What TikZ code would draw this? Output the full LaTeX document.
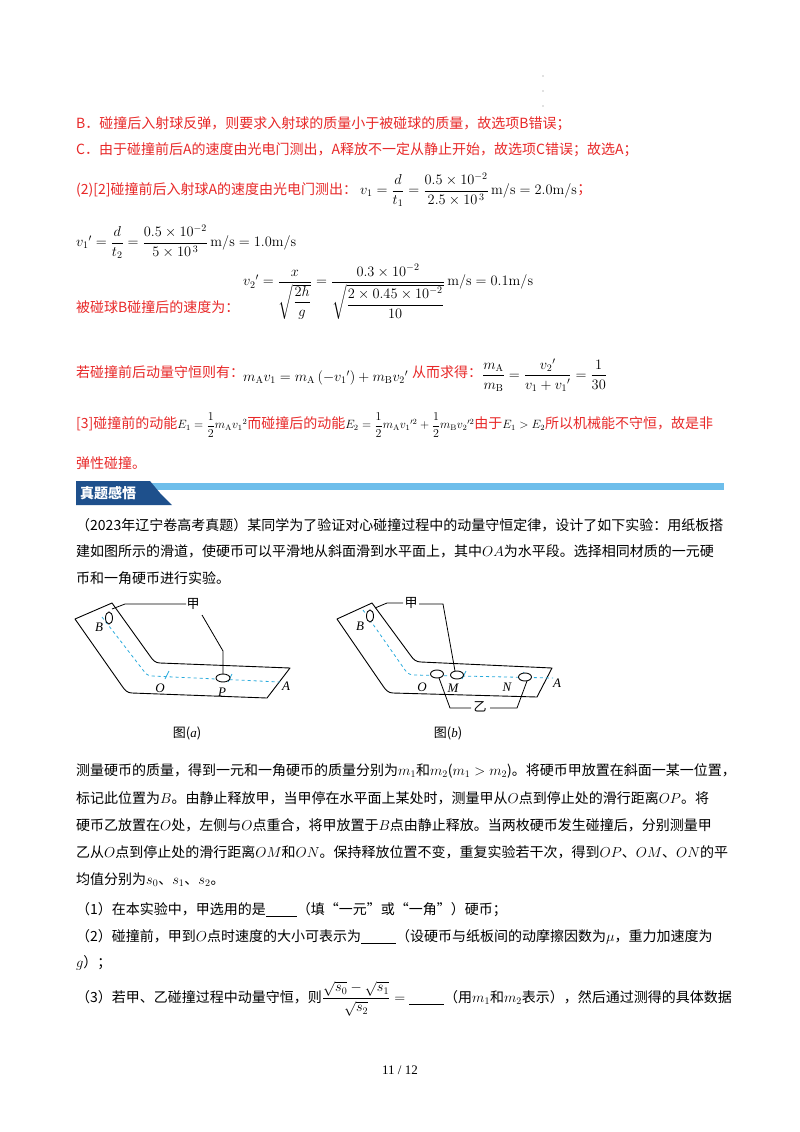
\documentclass[tikz,border=0pt]{standalone}
\usepackage{amsmath}
\usepackage[no-math]{fontspec}
\setmainfont{Noto Sans CJK SC}
\newfontfamily\serifl{Liberation Serif}
\definecolor{rd}{RGB}{232,40,40}
\definecolor{cy}{RGB}{40,170,220}
\definecolor{dblue}{RGB}{30,80,140}
\definecolor{lblue}{RGB}{110,190,235}
\begin{document}
\begin{tikzpicture}[x=1pt,y=-1pt,
  tx/.style={anchor=west,inner sep=0,font=\fontsize{14}{16}\selectfont},
  rt/.style={tx,text=rd},
  eq/.style={anchor=west,inner sep=0,font=\fontsize{14.5}{17}\selectfont},
  lab/.style={inner sep=0,font=\fontsize{13}{15}\selectfont\serifl\itshape},
  coin/.style={draw,line width=0.9pt},
  trk/.style={line width=0.9pt,line join=round},
  dsh/.style={cy,dashed,line width=0.8pt},
  lead/.style={line width=0.8pt}]
\useasboundingbox (0,0) rectangle (800,1132);
\fill[white] (0,0) rectangle (800,1132);
% tiny dots
\foreach \yy in {76,91,106} \fill[gray] (543,\yy) circle (0.6);
% red solution text
\node[rt] (l1) at (76,124) {B．碰撞后入射球反弹，则要求入射球的质量小于被碰球的质量，故选项B错误；};
\node[rt] (l2) at (76,150) {C．由于碰撞前后A的速度由光电门测出，A释放不一定从静止开始，故选项C错误；故选A；};
\node[rt] (l3) at (76,190) {(2)[2]碰撞前后入射球A的速度由光电门测出：};
\node[eq] (e1) at (360,190) {$v_1=\dfrac{d}{t_1}=\dfrac{0.5\times10^{-2}}{2.5\times10^{\,3}}\,\mathrm{m/s}=2.0\mathrm{m/s}$};
\node[rt,anchor=west] at (e1.east) {；};
\node[eq] (e2) at (76,242) {$v_1{}'=\dfrac{d}{t_2}=\dfrac{0.5\times10^{-2}}{5\times10^{\,3}}\,\mathrm{m/s}=1.0\mathrm{m/s}$};
\node[rt] (l4) at (76,307) {被碰球B碰撞后的速度为：};
\node[eq] (e3) at (243,292) {$v_2{}'=\dfrac{x}{\sqrt{\dfrac{2h}{g}}}=\dfrac{0.3\times10^{-2}}{\sqrt{\dfrac{2\times0.45\times10^{-2}}{10}}}\,\mathrm{m/s}=0.1\mathrm{m/s}$};
\node[rt] (l5) at (76,372) {若碰撞前后动量守恒则有：};
\node[eq] (e4) at (243,378) {$m_{\mathrm A}v_1=m_{\mathrm A}\left(-v_1{}'\right)+m_{\mathrm B}v_2{}'$};
\node[rt] (l6) at (412,372) {从而求得：};
\node[eq] (e5) at (482,375) {$\dfrac{m_{\mathrm A}}{m_{\mathrm B}}=\dfrac{v_2{}'}{v_1+v_1{}'}=\dfrac{1}{30}$};
\node[anchor=west,inner sep=0,font=\fontsize{14}{16}\selectfont,text=rd] (l7) at (76,425) {[3]碰撞前的动能\textcolor{black}{\fontsize{12}{14}\selectfont$E_1=\dfrac12m_{\mathrm A}v_1{}^2$}而碰撞后的动能\textcolor{black}{\fontsize{12}{14}\selectfont$E_2=\dfrac12m_{\mathrm A}v_1{}'^2+\dfrac12m_{\mathrm B}v_2{}'^2$}由于\textcolor{black}{\fontsize{12}{14}\selectfont$E_1>E_2$}所以机械能不守恒，故是非};
\node[rt] (l8) at (76,463) {弹性碰撞。};
% banner
\fill[lblue] (150,483) rectangle (724,490);
\fill[dblue] (76,481) -- (150,481) -- (160,493) -- (172,505) -- (76,505) -- cycle;
\node[anchor=west,inner sep=0,text=white,font=\fontsize{14}{16}\selectfont\bfseries] (ban) at (80,493) {真题感悟};
% problem text
\node[tx] (p1) at (76,525) {（2023年辽宁卷高考真题）某同学为了验证对心碰撞过程中的动量守恒定律，设计了如下实验：用纸板搭};
\node[tx] (p2) at (76,551) {建如图所示的滑道，使硬币可以平滑地从斜面滑到水平面上，其中$OA$为水平段。选择相同材质的一元硬};
\node[tx] (p3) at (76,578) {币和一角硬币进行实验。};
% figure a
\draw[trk] (75,619) -- (112,603) -- (150,656) to[out=-55,in=180] (160,663) -- (290,668) -- (267,698) -- (132,693) to[out=180,in=-55] (122,686) -- cycle;
\draw[dsh] (102,617) -- (143,670) to[out=-55,in=180] (152,676) -- (280,682);
\draw[cy,line width=0.8pt] (165,679) -- (169,671) (228,682) -- (232,674);
\draw[coin,fill=white] (109,618) ellipse [x radius=3.5,y radius=6];
\draw[coin,fill=white] (223,678) ellipse [x radius=7,y radius=4];
\node[lab] (Ba) at (99,627) {B};
\node[lab] (Oa) at (160,688) {O};
\node[lab] (Pa) at (222,692) {P};
\node[lab] (Aa) at (286,686) {A};
\node[inner sep=0,font=\fontsize{13}{15}\selectfont] (ja) at (193,604) {甲};
\draw[lead] (112,609) -- (125,604) -- (186,604);
\draw[lead] (202,615) -- (223,651) -- (223,674);
\node[inner sep=0,font=\fontsize{13}{15}\selectfont] (ca) at (187,733) {图(\textit{\serifl a})};
% figure b
\draw[trk] (337,619) -- (372,603) -- (411,656) to[out=-55,in=180] (421,662) -- (552,668) -- (537,697) -- (393,693) to[out=180,in=-55] (383,686) -- cycle;
\draw[dsh] (363,610) -- (405,670) to[out=-55,in=180] (414,675) -- (553,678);
\draw[cy,line width=0.8pt] (462,679) -- (466,671) (520,680) -- (524,672);
\draw[coin,fill=white] (370,616) ellipse [x radius=3.5,y radius=6];
\draw[coin,fill=white] (437,674) ellipse [x radius=6.5,y radius=4];
\draw[coin,fill=white] (457,675) ellipse [x radius=6.5,y radius=4];
\draw[coin,fill=white] (525,677) ellipse [x radius=6.5,y radius=4];
\node[lab] (Bb) at (360,626) {B};
\node[lab] (Ob) at (422,687) {O};
\node[lab] (Mb) at (453,688) {M};
\node[lab] (Nb) at (507,687) {N};
\node[lab] (Ab) at (557,683) {A};
\node[inner sep=0,font=\fontsize{13}{15}\selectfont] (jb) at (411,603) {甲};
\draw[lead] (375,608) -- (387,603) -- (403,603);
\draw[lead] (419,604) -- (443,604) -- (455,671);
\node[inner sep=0,font=\fontsize{13}{15}\selectfont] (yb) at (480,707) {乙};
\draw[lead] (439,678) -- (450,708) -- (471,708);
\draw[lead] (527,681) -- (517,708) -- (490,708);
\node[inner sep=0,font=\fontsize{13}{15}\selectfont] (cb) at (448,733) {图(\textit{\serifl b})};
% questions
\node[tx] (q1) at (76,771) {测量硬币的质量，得到一元和一角硬币的质量分别为$m_1$和$m_2$($m_1>m_2$)。将硬币甲放置在斜面一某一位置，};
\node[tx] (q2) at (76,798) {标记此位置为$B$。由静止释放甲，当甲停在水平面上某处时，测量甲从$O$点到停止处的滑行距离$OP$。将};
\node[tx] (q3) at (76,825) {硬币乙放置在$O$处，左侧与$O$点重合，将甲放置于$B$点由静止释放。当两枚硬币发生碰撞后，分别测量甲};
\node[tx] (q4) at (76,852) {乙从$O$点到停止处的滑行距离$OM$和$ON$。保持释放位置不变，重复实验若干次，得到$OP$、$OM$、$ON$的平};
\node[tx] (q5) at (76,880) {均值分别为$s_0$、$s_1$、$s_2$。};
\node[tx] (q6) at (76,910) {（1）在本实验中，甲选用的是\underline{\hspace{2.2em}}（填“一元”或“一角”）硬币；};
\node[tx] (q7) at (76,937) {（2）碰撞前，甲到$O$点时速度的大小可表示为\underline{\hspace{2.5em}}（设硬币与纸板间的动摩擦因数为$\mu$，重力加速度为};
\node[tx] (q8) at (76,963) {$g$）；};
\node[tx] (q9) at (76,999) {（3）若甲、乙碰撞过程中动量守恒，则$\dfrac{\sqrt{s_0}-\sqrt{s_1}}{\sqrt{s_2}}={}$\underline{\hspace{2.5em}}（用$m_1$和$m_2$表示），然后通过测得的具体数据};
\node[inner sep=0,font=\fontsize{13}{15}\selectfont\serifl] (pg) at (400,1070) {11 / 12};
\end{tikzpicture}
\end{document}
